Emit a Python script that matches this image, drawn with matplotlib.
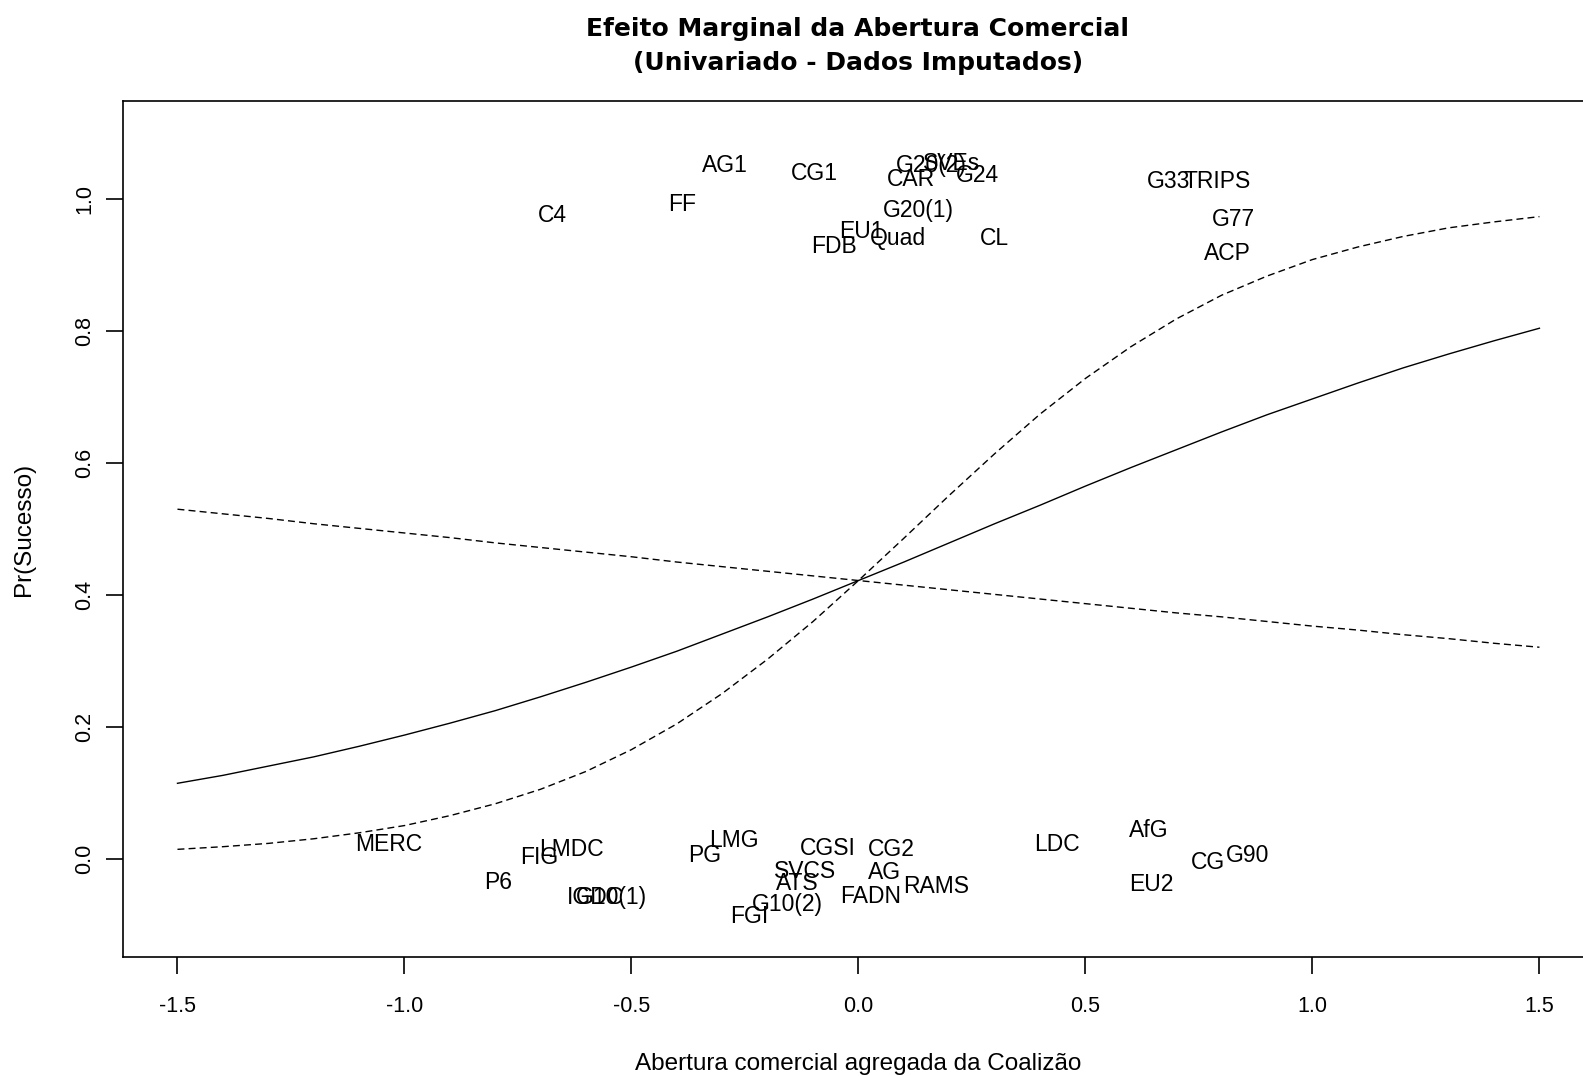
import matplotlib.pyplot as plt
import numpy as np

plt.rcParams['font.family'] = ['Liberation Sans', 'DejaVu Sans']

# predicted probability and simulation bands
abertura = [-1.5, -1.4, -1.3, -1.2, -1.1, -1.0, -0.9, -0.8, -0.7, -0.6, -0.5,
            -0.4, -0.3, -0.2, -0.1, 0.0, 0.1, 0.2, 0.3, 0.4, 0.5,
            0.6, 0.7, 0.8, 0.9, 1.0, 1.1, 1.2, 1.3, 1.4, 1.5]
pr_medio = [0.115, 0.127, 0.141, 0.155, 0.171, 0.188, 0.206, 0.225, 0.246, 0.268, 0.291,
            0.315, 0.341, 0.367, 0.394, 0.422, 0.450, 0.479, 0.508, 0.536, 0.565,
            0.593, 0.620, 0.647, 0.673, 0.697, 0.721, 0.744, 0.765, 0.785, 0.804]
pr_sup = [0.015, 0.019, 0.024, 0.031, 0.040, 0.051, 0.066, 0.084, 0.106, 0.133, 0.166,
          0.205, 0.251, 0.303, 0.360, 0.422, 0.486, 0.551, 0.614, 0.674, 0.728,
          0.776, 0.818, 0.854, 0.883, 0.908, 0.927, 0.943, 0.956, 0.965, 0.973]
pr_inf = [0.530, 0.523, 0.516, 0.508, 0.501, 0.494, 0.487, 0.479, 0.472, 0.465, 0.458,
          0.450, 0.443, 0.436, 0.429, 0.422, 0.415, 0.408, 0.401, 0.394, 0.387,
          0.380, 0.373, 0.367, 0.360, 0.353, 0.347, 0.340, 0.334, 0.327, 0.321]

# coalition labels
coalizoes = ['AG1', 'CG1', 'C4', 'FF', 'G20(2)', 'SVEs', 'CAR', 'G24', 'G20(1)',
             'EU1', 'Quad', 'FDB', 'CL', 'G33', 'TRIPS', 'G77', 'ACP',
             'MERC', 'LMDC', 'FIG', 'P6', 'IGDC', 'G10(1)', 'PG', 'LMG', 'CGSI',
             'CG2', 'SVCS', 'ATS', 'AG', 'RAMS', 'FADN', 'G10(2)', 'FGI',
             'LDC', 'AfG', 'EU2', 'CG', 'G90']
coal_x = [-0.295, -0.097, -0.675, -0.388, 0.160, 0.205, 0.116, 0.261, 0.132,
          0.006, 0.088, -0.054, 0.299, 0.684, 0.791, 0.826, 0.813,
          -1.035, -0.633, -0.704, -0.793, -0.580, -0.545, -0.339, -0.275, -0.068,
          0.072, -0.117, -0.134, 0.057, 0.170, 0.026, -0.157, -0.241,
          0.437, 0.640, 0.644, 0.771, 0.858]
coal_y = [1.050, 1.038, 0.974, 0.992, 1.050, 1.053, 1.029, 1.035, 0.983,
          0.950, 0.940, 0.927, 0.940, 1.026, 1.026, 0.969, 0.917,
          0.023, 0.015, 0.002, -0.035, -0.058, -0.058, 0.005, 0.029, 0.017,
          0.014, -0.018, -0.037, -0.020, -0.041, -0.057, -0.069, -0.086,
          0.023, 0.044, -0.038, -0.005, 0.006]

fig = plt.figure(figsize=(15.83, 10.76), dpi=100)
ax = fig.add_axes([0.0777, 0.1106, 0.9292, 0.7955])

ax.plot(abertura, pr_medio, color='black', lw=1.0)
ax.plot(abertura, pr_sup, color='black', lw=1.0, dashes=(5, 3))
ax.plot(abertura, pr_inf, color='black', lw=1.0, dashes=(5, 3))

for nome, cx, cy in zip(coalizoes, coal_x, coal_y):
    ax.text(cx, cy, nome, ha='center', va='center', fontsize=16.5, color='black')

ax.set_xlim(-1.62, 1.62)
ax.set_ylim(-0.148, 1.148)
ax.set_xticks([-1.5, -1.0, -0.5, 0.0, 0.5, 1.0, 1.5])
ax.set_yticks([0.0, 0.2, 0.4, 0.6, 0.8, 1.0])
ax.xaxis.set_major_formatter(plt.FormatStrFormatter('%.1f'))
ax.yaxis.set_major_formatter(plt.FormatStrFormatter('%.1f'))
ax.tick_params(direction='out', length=12, width=1.2, labelsize=15.5)
ax.tick_params(axis='x', pad=16)
ax.tick_params(axis='y', pad=8, labelrotation=90)
for lbl in ax.get_yticklabels():
    lbl.set_va('center')
for s in ['left', 'bottom', 'top', 'right']:
    ax.spines[s].set_linewidth(1.2)

ax.set_xlabel('Abertura comercial agregada da Coalizão', fontsize=17.5, labelpad=26)
ax.set_ylabel('Pr(Sucesso)', fontsize=17.5, labelpad=28)

fig.text(0.542, 0.9575, 'Efeito Marginal da Abertura Comercial\n(Univariado - Dados Imputados)',
         ha='center', va='center', fontsize=18, fontweight='bold', linespacing=1.55,
         family=['DejaVu Sans'])

fig.savefig('out.png', dpi=100)
